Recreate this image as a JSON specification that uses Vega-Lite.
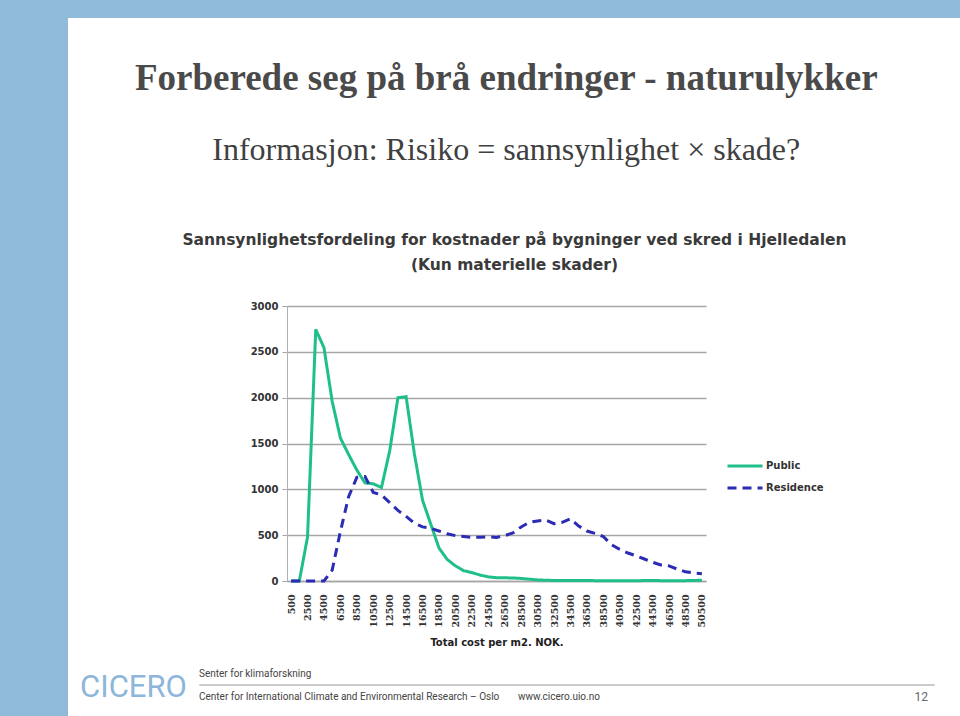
{
 "$schema": "https://vega.github.io/schema/vega-lite/v6.json",
 "padding": 0,
 "background": "white",
 "config": {"view": {"stroke": null}},
 "datasets": {
  "blank": [{"k": 1}],
  "cost": [
   {"cost": 500, "series": "Public", "value": 0},
   {"cost": 1500, "series": "Public", "value": 0},
   {"cost": 2500, "series": "Public", "value": 480},
   {"cost": 3500, "series": "Public", "value": 2745},
   {"cost": 4500, "series": "Public", "value": 2545},
   {"cost": 5500, "series": "Public", "value": 1960},
   {"cost": 6500, "series": "Public", "value": 1560},
   {"cost": 7500, "series": "Public", "value": 1380},
   {"cost": 8500, "series": "Public", "value": 1210},
   {"cost": 9500, "series": "Public", "value": 1070},
   {"cost": 10500, "series": "Public", "value": 1060},
   {"cost": 11500, "series": "Public", "value": 1020},
   {"cost": 12500, "series": "Public", "value": 1420},
   {"cost": 13500, "series": "Public", "value": 2000},
   {"cost": 14500, "series": "Public", "value": 2010},
   {"cost": 15500, "series": "Public", "value": 1390},
   {"cost": 16500, "series": "Public", "value": 880},
   {"cost": 17500, "series": "Public", "value": 620},
   {"cost": 18500, "series": "Public", "value": 360},
   {"cost": 19500, "series": "Public", "value": 235},
   {"cost": 20500, "series": "Public", "value": 165},
   {"cost": 21500, "series": "Public", "value": 112},
   {"cost": 22500, "series": "Public", "value": 92},
   {"cost": 23500, "series": "Public", "value": 65},
   {"cost": 24500, "series": "Public", "value": 45},
   {"cost": 25500, "series": "Public", "value": 36},
   {"cost": 26500, "series": "Public", "value": 35},
   {"cost": 27500, "series": "Public", "value": 33},
   {"cost": 28500, "series": "Public", "value": 28},
   {"cost": 29500, "series": "Public", "value": 20},
   {"cost": 30500, "series": "Public", "value": 12},
   {"cost": 31500, "series": "Public", "value": 8},
   {"cost": 32500, "series": "Public", "value": 6},
   {"cost": 33500, "series": "Public", "value": 5},
   {"cost": 34500, "series": "Public", "value": 5},
   {"cost": 35500, "series": "Public", "value": 5},
   {"cost": 36500, "series": "Public", "value": 5},
   {"cost": 37500, "series": "Public", "value": 4},
   {"cost": 38500, "series": "Public", "value": 4},
   {"cost": 39500, "series": "Public", "value": 4},
   {"cost": 40500, "series": "Public", "value": 4},
   {"cost": 41500, "series": "Public", "value": 3},
   {"cost": 42500, "series": "Public", "value": 3},
   {"cost": 43500, "series": "Public", "value": 5},
   {"cost": 44500, "series": "Public", "value": 6},
   {"cost": 45500, "series": "Public", "value": 4},
   {"cost": 46500, "series": "Public", "value": 3},
   {"cost": 47500, "series": "Public", "value": 3},
   {"cost": 48500, "series": "Public", "value": 4},
   {"cost": 49500, "series": "Public", "value": 6},
   {"cost": 50500, "series": "Public", "value": 8},
   {"cost": 500, "series": "Residence", "value": 0},
   {"cost": 1500, "series": "Residence", "value": 0},
   {"cost": 2500, "series": "Residence", "value": 0},
   {"cost": 3500, "series": "Residence", "value": 0},
   {"cost": 4500, "series": "Residence", "value": 0},
   {"cost": 5500, "series": "Residence", "value": 120},
   {"cost": 6500, "series": "Residence", "value": 540},
   {"cost": 7500, "series": "Residence", "value": 920},
   {"cost": 8500, "series": "Residence", "value": 1130},
   {"cost": 9500, "series": "Residence", "value": 1140},
   {"cost": 10500, "series": "Residence", "value": 965},
   {"cost": 11500, "series": "Residence", "value": 940},
   {"cost": 12500, "series": "Residence", "value": 855},
   {"cost": 13500, "series": "Residence", "value": 770},
   {"cost": 14500, "series": "Residence", "value": 705},
   {"cost": 15500, "series": "Residence", "value": 630},
   {"cost": 16500, "series": "Residence", "value": 590},
   {"cost": 17500, "series": "Residence", "value": 575},
   {"cost": 18500, "series": "Residence", "value": 545},
   {"cost": 19500, "series": "Residence", "value": 515},
   {"cost": 20500, "series": "Residence", "value": 495},
   {"cost": 21500, "series": "Residence", "value": 485},
   {"cost": 22500, "series": "Residence", "value": 475},
   {"cost": 23500, "series": "Residence", "value": 478},
   {"cost": 24500, "series": "Residence", "value": 482},
   {"cost": 25500, "series": "Residence", "value": 475},
   {"cost": 26500, "series": "Residence", "value": 495},
   {"cost": 27500, "series": "Residence", "value": 525},
   {"cost": 28500, "series": "Residence", "value": 590},
   {"cost": 29500, "series": "Residence", "value": 640},
   {"cost": 30500, "series": "Residence", "value": 655},
   {"cost": 31500, "series": "Residence", "value": 665},
   {"cost": 32500, "series": "Residence", "value": 625},
   {"cost": 33500, "series": "Residence", "value": 640},
   {"cost": 34500, "series": "Residence", "value": 680},
   {"cost": 35500, "series": "Residence", "value": 600},
   {"cost": 36500, "series": "Residence", "value": 545},
   {"cost": 37500, "series": "Residence", "value": 520},
   {"cost": 38500, "series": "Residence", "value": 485},
   {"cost": 39500, "series": "Residence", "value": 395},
   {"cost": 40500, "series": "Residence", "value": 345},
   {"cost": 41500, "series": "Residence", "value": 305},
   {"cost": 42500, "series": "Residence", "value": 275},
   {"cost": 43500, "series": "Residence", "value": 240},
   {"cost": 44500, "series": "Residence", "value": 205},
   {"cost": 45500, "series": "Residence", "value": 175},
   {"cost": 46500, "series": "Residence", "value": 165},
   {"cost": 47500, "series": "Residence", "value": 130},
   {"cost": 48500, "series": "Residence", "value": 100},
   {"cost": 49500, "series": "Residence", "value": 88},
   {"cost": 50500, "series": "Residence", "value": 78}
  ]
 },
 "spacing": 0,
 "hconcat": [
  {
   "width": 68, "height": 716,
   "view": {"fill": "#8fbad9", "stroke": null},
   "data": {"name": "blank"},
   "mark": {"type": "text"},
   "encoding": {"text": {"value": ""}}
  },
  {
   "spacing": 42,
   "vconcat": [
    {
     "width": 892, "height": 18,
     "view": {"fill": "#8fbad9", "stroke": null},
     "data": {"name": "blank"},
     "mark": {"type": "text"},
     "encoding": {"text": {"value": ""}}
    },
    {
     "title": {
      "text": "Forberede seg på brå endringer - naturulykker",
      "subtitle": "Informasjon: Risiko = sannsynlighet × skade?",
      "font": "Liberation Serif", "fontSize": 37, "fontWeight": "bold", "color": "#4a4a4a",
      "subtitleFont": "Liberation Serif", "subtitleFontSize": 32, "subtitleColor": "#404040",
      "subtitlePadding": 37, "offset": 66, "anchor": "middle", "dx": 5
     },
     "spacing": 20,
     "vconcat": [
      {
       "spacing": 0,
       "hconcat": [
        {
         "width": 114, "height": 10,
         "data": {"name": "blank"},
         "mark": {"type": "text"},
         "encoding": {"text": {"value": ""}}
        },
        {
         "width": 419, "height": 275,
         "data": {"name": "cost"},
         "title": {
          "text": "Sannsynlighetsfordeling for kostnader på bygninger ved skred i Hjelledalen",
          "subtitle": "(Kun materielle skader)",
          "font": "DejaVu Sans", "fontSize": 15.5, "fontWeight": "bold", "color": "#3a3a3a",
          "subtitleFont": "DejaVu Sans", "subtitleFontSize": 15.5, "subtitleFontWeight": "bold", "subtitleColor": "#3a3a3a",
          "subtitlePadding": 9, "offset": 28, "anchor": "middle", "frame": "group", "dx": 18
         },
         "mark": {"type": "line", "strokeWidth": 3},
         "encoding": {
          "x": {
           "field": "cost", "type": "quantitative",
           "scale": {"domain": [0, 51000], "nice": false, "zero": false},
           "axis": {
            "values": [500, 2500, 4500, 6500, 8500, 10500, 12500, 14500, 16500, 18500, 20500, 22500, 24500, 26500, 28500, 30500, 32500, 34500, 36500, 38500, 40500, 42500, 44500, 46500, 48500, 50500],
            "format": "d", "labelAngle": -90, "labelOverlap": false, "labelBound": false, "labelFlush": false,
            "labelFont": "DejaVu Serif", "labelFontWeight": "bold", "labelFontSize": 9.5, "labelColor": "#333",
            "labelPadding": 13, "ticks": false, "grid": false,
            "domainColor": "#a6a6a6", "domainWidth": 1.5,
            "title": "Total cost per m2. NOK.",
            "titleFont": "DejaVu Sans", "titleFontSize": 10, "titleFontWeight": "bold", "titleColor": "#222", "titlePadding": 10
           }
          },
          "y": {
           "field": "value", "type": "quantitative",
           "scale": {"domain": [0, 3000], "nice": false},
           "axis": {
            "values": [0, 500, 1000, 1500, 2000, 2500, 3000], "format": "d", "title": null,
            "labelFont": "DejaVu Sans", "labelFontWeight": "bold", "labelFontSize": 10, "labelColor": "#333",
            "labelPadding": 4, "gridColor": "#a6a6a6", "gridWidth": 1.5,
            "domainColor": "#b0b0b0", "tickColor": "#a6a6a6", "tickSize": 5
           }
          },
          "color": {
           "field": "series", "type": "nominal",
           "scale": {"domain": ["Public", "Residence"], "range": ["#1fbf8b", "#2b2bb3"]},
           "legend": {
            "orient": "none", "legendX": 726, "legendY": 460, "title": null, "padding": 0,
            "symbolType": "stroke", "symbolSize": 1225, "symbolStrokeWidth": 3, "clipHeight": 12,
            "labelFont": "DejaVu Sans", "labelFontWeight": "bold", "labelFontSize": 10, "labelColor": "#333",
            "rowPadding": 10, "labelOffset": 2
           }
          },
          "strokeDash": {
           "field": "series", "type": "nominal",
           "scale": {"domain": ["Public", "Residence"], "range": [[1, 0], [9, 6]]},
           "legend": {
            "orient": "none", "legendX": 726, "legendY": 460, "title": null, "padding": 0,
            "symbolType": "stroke", "symbolSize": 1225, "symbolStrokeWidth": 3, "clipHeight": 12,
            "labelFont": "DejaVu Sans", "labelFontWeight": "bold", "labelFontSize": 10, "labelColor": "#333",
            "rowPadding": 10, "labelOffset": 2
           }
          }
         }
        }
       ]
      },
      {
       "bounds": "flush",
       "spacing": 0,
       "hconcat": [
        {
         "width": 131, "height": 1,
         "data": {"name": "blank"},
         "mark": {"type": "text"},
         "encoding": {"text": {"value": ""}},
         "title": {"text": "CICERO", "orient": "top", "anchor": "middle", "frame": "group", "font": "Roboto", "fontSize": 31, "fontWeight": "normal", "color": "#8db6da", "baseline": "alphabetic", "offset": 0, "dy": 49}
        },
        {
         "bounds": "flush",
         "spacing": 0,
         "vconcat": [
          {
           "width": 735, "height": 1,
           "view": {"stroke": "#cccccc", "strokeWidth": 1},
           "data": {"name": "blank"},
           "mark": {"type": "text"},
           "encoding": {"text": {"value": ""}},
           "title": {"text": "Senter for klimaforskning", "orient": "top", "anchor": "start", "frame": "group", "font": "Roboto", "fontSize": 10, "fontWeight": "normal", "color": "#444", "offset": 0}
          },
          {
           "bounds": "flush",
           "spacing": 0,
           "hconcat": [
            {
             "width": 320, "height": 1,
             "data": {"name": "blank"},
             "mark": {"type": "text"},
             "encoding": {"text": {"value": ""}},
             "title": {"text": "Center for International Climate and Environmental Research – Oslo", "orient": "bottom", "anchor": "start", "frame": "group", "font": "Roboto", "fontSize": 10, "fontWeight": "normal", "color": "#444", "offset": 1}
            },
            {
             "width": 105, "height": 1,
             "data": {"name": "blank"},
             "mark": {"type": "text"},
             "encoding": {"text": {"value": ""}},
             "title": {"text": "www.cicero.uio.no", "orient": "bottom", "anchor": "start", "frame": "group", "font": "Roboto", "fontSize": 10, "fontWeight": "normal", "color": "#444", "offset": 1, "dx": -1}
            },
            {
             "width": 310, "height": 1,
             "data": {"name": "blank"},
             "mark": {"type": "text"},
             "encoding": {"text": {"value": ""}},
             "title": {"text": "12", "orient": "bottom", "anchor": "end", "frame": "group", "font": "Roboto", "fontSize": 12, "fontWeight": "normal", "color": "#666", "offset": 1, "dx": -6}
            }
           ]
          }
         ]
        }
       ]
      }
     ]
    }
   ]
  }
 ]
}
